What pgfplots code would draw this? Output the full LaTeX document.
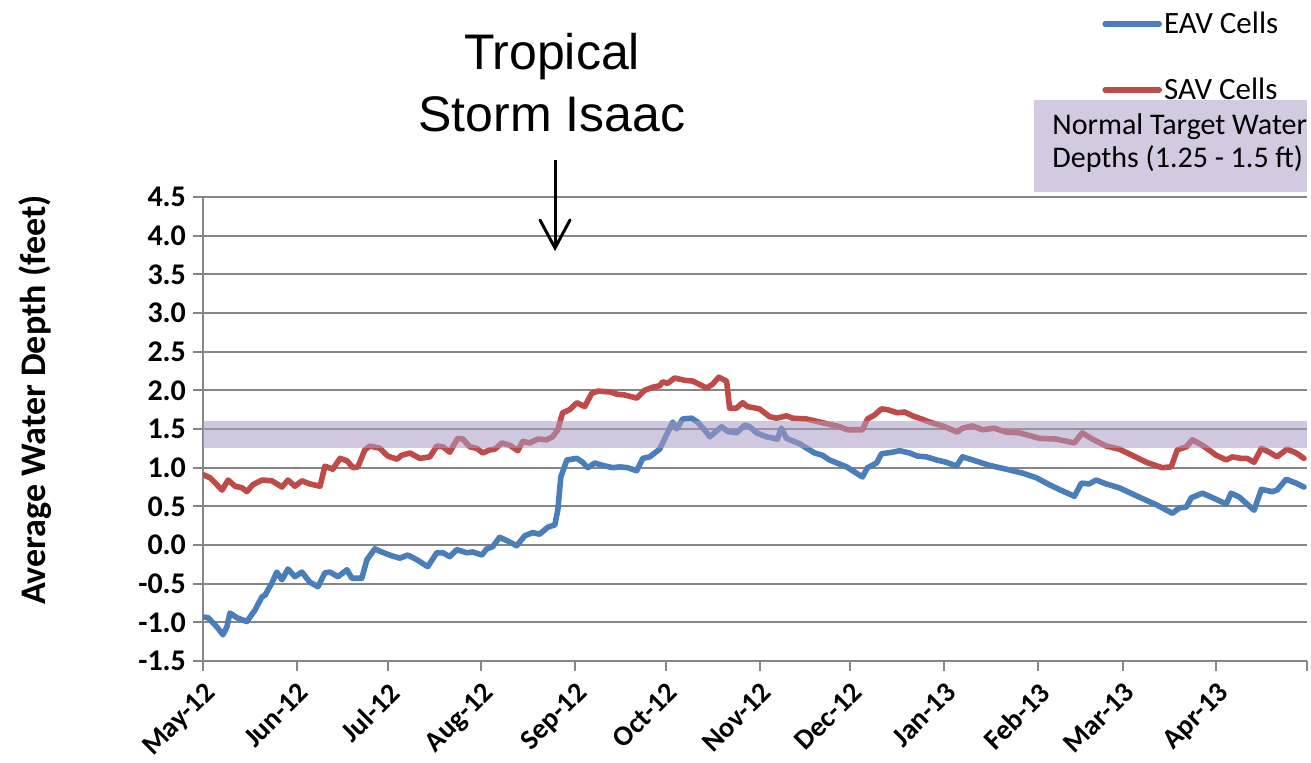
\documentclass[border=0pt]{standalone}
\usepackage{fontspec}
\setmainfont{Carlito}
\newfontfamily\arialfont{Liberation Sans}
\usepackage{pgfplots}
\pgfplotsset{compat=1.18}
\definecolor{eav}{RGB}{74,126,187}
\definecolor{sav}{RGB}{190,75,72}
\definecolor{band}{RGB}{170,155,194}
\definecolor{boxfill}{RGB}{211,201,224}
\definecolor{gridgray}{RGB}{134,134,134}
\begin{document}
\begin{tikzpicture}
\begin{axis}[
  scale only axis, width=552pt, height=232pt,
  at={(101.5pt,50.5pt)}, anchor=south west,
  xmin=0, xmax=365, ymin=-1.5, ymax=4.5,
  axis x line*=bottom, axis y line*=left,
  axis line style={gridgray, line width=1pt},
  xtick={0,31,61,92,123,153,184,214,245,276,304,335,365},
  xticklabels={May-12,Jun-12,Jul-12,Aug-12,Sep-12,Oct-12,Nov-12,Dec-12,Jan-13,Feb-13,Mar-13,Apr-13,{}},
  ytick={-1.5,-1,-0.5,0,0.5,1,1.5,2,2.5,3,3.5,4,4.5},
  /pgf/number format/fixed, /pgf/number format/fixed zerofill, /pgf/number format/precision=1,
  /pgf/number format/assume math mode=true,
  yticklabel style={font=\bfseries\fontsize{15}{17}\selectfont},
  xticklabel style={rotate=45, anchor=north east, font=\bfseries\fontsize{14.2}{16}\selectfont},
  tick style={gridgray, line width=1pt}, major tick length=5pt, tick align=outside,
  ymajorgrids, major grid style={gridgray, line width=1pt},
  ylabel={Average Water Depth (feet)},
  ylabel style={font=\bfseries\fontsize{18}{21}\selectfont, at={(axis description cs:-0.152,0.5625)}, anchor=center},
  legend style={at={(axis description cs:0.8143,1.302)}, anchor=west, draw=none, fill=none, inner sep=0pt,
    font=\fontsize{15.5}{18}\selectfont, row sep=21pt, nodes={inner sep=1pt, text height=10pt, text depth=0pt}},
  legend cell align=left,
  legend image code/.code={\draw[#1] (0pt,0pt) -- (27pt,0pt);},
]
\addplot[eav, line width=2.8pt, line join=round, line cap=round] coordinates {
(0,-0.93) (1.7,-0.94) (4.6,-1.06) (6.6,-1.16) (7.9,-1.06) (8.9,-0.88) (11.2,-0.94) (14.5,-0.99) (17.2,-0.84) (19.5,-0.67) (20.5,-0.65) (22.8,-0.49) (24.4,-0.35) (26.1,-0.45) (28.1,-0.31) (30.4,-0.41) (32.7,-0.35) (35.3,-0.48) (38.0,-0.54) (40.3,-0.36) (42.0,-0.35) (44.6,-0.41) (47.6,-0.32) (49.2,-0.43) (52.5,-0.43) (54.2,-0.19) (56.8,-0.05) (59.1,-0.09) (62.4,-0.14) (65.1,-0.17) (67.7,-0.13) (70.7,-0.19) (74.3,-0.28) (77.3,-0.10) (79.3,-0.10) (81.6,-0.15) (83.9,-0.06) (87.2,-0.10) (89.2,-0.09) (92.2,-0.13) (93.8,-0.05) (95.8,-0.02) (98.1,0.10) (100.8,0.05) (103.7,-0.01) (106.4,0.12) (109.0,0.16) (111.3,0.14) (114.0,0.23) (116.3,0.26) (117.3,0.45) (118.3,0.88) (120.3,1.10) (123.6,1.12) (125.5,1.07) (127.2,1.00) (129.5,1.06) (132.1,1.03) (135.4,1.00) (137.8,1.01) (140.4,1.00) (143.4,0.96) (145.4,1.12) (147.7,1.14) (151.0,1.24) (152.7,1.38) (155.3,1.59) (156.6,1.50) (158.6,1.63) (161.5,1.64) (163.5,1.59) (165.8,1.49) (167.5,1.40) (169.1,1.45) (171.5,1.53) (173.4,1.47) (176.4,1.45) (179.1,1.55) (180.7,1.53) (183.0,1.45) (186.3,1.40) (189.9,1.37) (191.2,1.51) (192.9,1.38) (197.2,1.31) (202.2,1.19) (204.8,1.16) (207.1,1.10) (212.8,1.01) (218.0,0.88) (219.7,1.00) (222.7,1.06) (224.3,1.18) (228.0,1.20) (230.3,1.22) (233.6,1.19) (236.2,1.15) (239.2,1.14) (242.5,1.10) (245.8,1.07) (249.1,1.02) (251.1,1.14) (254.4,1.10) (260.0,1.03) (265.6,0.98) (270.9,0.93) (275.5,0.87) (279.8,0.78) (284.1,0.70) (288.1,0.63) (290.4,0.80) (293.0,0.79) (295.3,0.84) (298.6,0.79) (302.9,0.74) (309.5,0.62) (315.2,0.52) (320.5,0.41) (322.8,0.48) (325.1,0.49) (326.7,0.61) (330.4,0.67) (335.0,0.59) (338.3,0.53) (339.9,0.67) (342.6,0.62) (347.5,0.45) (349.9,0.72) (353.5,0.69) (355.1,0.71) (358.1,0.85) (361.4,0.80) (364.0,0.75)
};
\addlegendentry{EAV Cells}
\addplot[sav, line width=2.8pt, line join=round, line cap=round] coordinates {
(0,0.91) (2.3,0.87) (4.6,0.78) (6.3,0.71) (8.3,0.84) (10.6,0.76) (12.9,0.74) (14.5,0.69) (16.5,0.78) (19.5,0.84) (22.8,0.83) (26.1,0.75) (28.1,0.84) (30.4,0.76) (32.7,0.83) (35.3,0.79) (38.7,0.76) (40.3,1.02) (42.9,0.98) (45.3,1.12) (47.6,1.09) (49.6,1.00) (51.2,1.01) (53.5,1.23) (55.2,1.28) (58.5,1.25) (61.1,1.15) (64.1,1.11) (65.7,1.16) (68.4,1.19) (71.7,1.12) (75.0,1.14) (77.3,1.28) (79.3,1.27) (81.6,1.20) (84.2,1.38) (85.9,1.37) (88.2,1.27) (90.5,1.25) (92.5,1.19) (94.8,1.23) (96.5,1.24) (98.8,1.32) (101.4,1.29) (104.1,1.22) (105.7,1.34) (108.0,1.32) (110.7,1.37) (113.6,1.36) (115.6,1.40) (117.3,1.49) (118.9,1.71) (121.2,1.75) (123.6,1.84) (126.2,1.79) (128.5,1.96) (130.5,1.99) (134.5,1.98) (136.8,1.95) (139.4,1.94) (143.4,1.90) (146.0,2.00) (148.7,2.04) (151.0,2.06) (152.0,2.11) (153.6,2.09) (155.9,2.16) (159.2,2.13) (161.9,2.12) (166.5,2.03) (168.5,2.08) (170.5,2.17) (173.1,2.12) (174.1,1.77) (176.4,1.77) (178.4,1.84) (180.0,1.79) (184.0,1.76) (187.3,1.66) (189.6,1.64) (192.9,1.67) (194.9,1.64) (199.5,1.63) (202.8,1.60) (206.1,1.57) (210.4,1.53) (213.1,1.49) (218.0,1.49) (219.7,1.63) (222.0,1.68) (224.3,1.76) (226.3,1.75) (229.6,1.71) (231.9,1.72) (234.6,1.67) (237.5,1.63) (240.2,1.59) (244.5,1.54) (249.4,1.46) (251.1,1.51) (254.4,1.54) (257.7,1.49) (261.6,1.51) (265.6,1.46) (269.9,1.45) (276.5,1.38) (282.1,1.37) (288.1,1.32) (290.7,1.45) (294.0,1.37) (298.6,1.28) (302.9,1.24) (307.2,1.16) (311.9,1.07) (317.1,1.00) (320.1,1.01) (322.1,1.23) (325.1,1.27) (327.1,1.36) (330.4,1.29) (335.0,1.16) (338.3,1.10) (340.3,1.14) (343.2,1.12) (345.2,1.12) (347.5,1.07) (349.9,1.25) (352.5,1.20) (355.1,1.14) (358.4,1.24) (361.4,1.19) (364.0,1.12)
};
\addlegendentry{SAV Cells}
\addplot[draw=none, fill=band, fill opacity=0.55, forget plot] coordinates {(0,1.25) (365,1.25) (365,1.6) (0,1.6)} -- cycle;
\end{axis}
\node[fill=boxfill, minimum width=136.5pt, minimum height=46pt, anchor=south west, inner sep=0pt] at (517pt,285pt) {};
\node[anchor=base west, inner sep=0pt, font=\fontsize{15}{16}\selectfont] at (526pt,313.5pt) {Normal Target Water};
\node[anchor=base west, inner sep=0pt, font=\fontsize{15}{16}\selectfont] at (526pt,297.5pt) {Depths (1.25 - 1.5 ft)};
\node[anchor=base, inner sep=0pt, font=\arialfont\fontsize{25}{30}\selectfont] at (276pt,346pt) {Tropical};
\node[anchor=base, inner sep=0pt, font=\arialfont\fontsize{25}{30}\selectfont] at (276pt,315.2pt) {Storm Isaac};
\draw[black, line width=1.5pt] (277.5pt,301pt) -- (277.5pt,258pt);
\draw[black, line width=1.5pt, line join=miter, line cap=round] (270pt,271pt) -- (277.5pt,257pt) -- (285pt,271pt);
\pgfresetboundingbox
\useasboundingbox (0,0) rectangle (655.5pt,381pt);
\end{tikzpicture}
\end{document}
